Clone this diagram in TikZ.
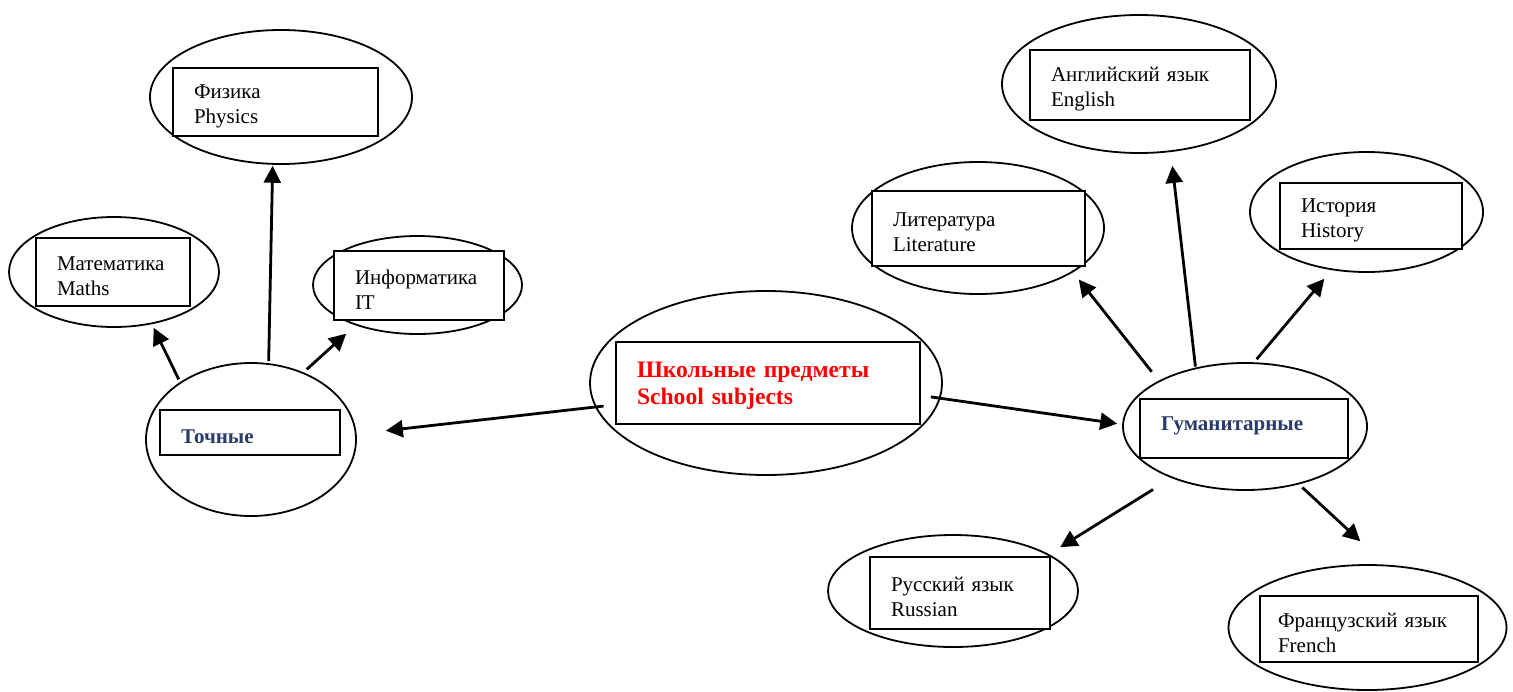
\documentclass[tikz,border=0pt]{standalone}
\usepackage{fontspec}
\setmainfont{Liberation Serif}
\usetikzlibrary{arrows.meta,shapes.geometric}
\definecolor{darkblue}{RGB}{40,60,105}
\hyphenpenalty=10000
\tikzset{
  oval/.style={draw, ellipse, line width=0.9pt, inner sep=0pt},
  frame/.style={draw, fill=white, line width=0.7pt, inner xsep=10.5pt, inner ysep=0pt,
    align=left, font=\fontsize{10.5}{12.5}\selectfont},
  box/.style={frame, execute at begin node={\rule{0pt}{11pt}}},
  head/.style={font=\fontsize{10.5}{12.5}\selectfont\bfseries, text=darkblue},
  arr/.style={line width=1.4pt, -{Triangle[length=8.5pt,width=8.5pt]}}
}

\begin{document}
\begin{tikzpicture}[x=0.5pt,y=-0.5pt]
  \useasboundingbox (0,0) rectangle (1513,691);

  % ovals
  \node (S)  at (766,383)    [oval, minimum width=176pt, minimum height=92pt] {};
  \node (T)  at (251,439.5)  [oval, minimum width=105pt, minimum height=76.5pt] {};
  \node (Ph) at (281,97)     [oval, minimum width=131pt, minimum height=67pt] {};
  \node (Ma) at (114,272)    [oval, minimum width=105pt, minimum height=55pt] {};
  \node (In) at (417.5,285)  [oval, minimum width=104.5pt, minimum height=49pt] {};
  \node (Hm) at (1245,426.5) [oval, minimum width=122pt, minimum height=63.5pt] {};
  \node (Li) at (978,228)    [oval, minimum width=126pt, minimum height=66pt] {};
  \node (En) at (1139,84)    [oval, minimum width=137pt, minimum height=69pt] {};
  \node (Hi) at (1366.5,212) [oval, minimum width=116.5pt, minimum height=60pt] {};
  \node (Ru) at (953,591)    [oval, minimum width=125pt, minimum height=56pt] {};
  \node (Fr) at (1367.5,627.5) [oval, minimum width=139pt, minimum height=62.5pt] {};

  % boxes
  \node (SB)  at (768,383)    [box, text width=131pt, minimum height=41pt,
    font=\fontsize{11.8}{13.5}\selectfont\bfseries, text=red] {Школьные предметы\\School subjects};
  \node (TB)  at (250,432.5)  [box, head, text width=69pt, minimum height=22.5pt] {Точные};
  \node (PhB) at (275.5,102)  [box, text width=81.5pt, minimum height=34pt] {Физика\\Physics};
  \node (MaB) at (113,272)    [box, text width=56pt, minimum height=34pt] {Математика\\Maths};
  \node (InB) at (419,285.5)  [box, text width=64pt, minimum height=34.5pt] {Информатика\\IT};
  \node (HmB) at (1244,428.5) [frame, head, text width=83pt, text depth=5pt,
    minimum height=29.5pt] {Гуманитарные};
  \node (LiB) at (978.5,228.5) [box, text width=85.5pt, minimum height=37.5pt] {Литература\\Literature};
  \node (EnB) at (1140,85)    [box, text width=89pt, minimum height=35pt] {Английский язык\\English};
  \node (HiB) at (1371,216)   [box, text width=70pt, minimum height=33pt] {История\\History};
  \node (RuB) at (960,593)    [box, text width=69pt, minimum height=36pt] {Русский язык\\Russian};
  \node (FrB) at (1369,629)   [box, inner xsep=9pt, text width=91pt, minimum height=33pt] {Французский язык\\French};

  % arrows
  \draw[arr, shorten <=-4.25pt, shorten >=14.7pt] (S.188) to (T.3);
  \draw[arr, shorten <=-4.85pt, shorten >=2.5pt] (S.-5) to (Hm.179);
  \draw[arr, shorten <=1.5pt, shorten >=2pt] (T.141) to (Ma.-54);
  \draw[arr, shorten <=1pt, shorten >=0.5pt] (T.77) to (Ph.263);
  \draw[arr, shorten <=2.2pt, shorten >=6.2pt] (T.52) to (In.-147);
  \draw[arr, shorten <=5.65pt, shorten >=4.6pt] (Hm.152) to (Li.-25);
  \draw[arr, shorten <=0.5pt, shorten >=7pt] (Hm.130) to (En.-65);
  \draw[arr, shorten <=2pt, shorten >=5.65pt] (Hm.82) to (Hi.-121);
  \draw[arr, shorten <=10.8pt, shorten >=6.6pt] (Hm.-145) to (Ru.21);
  \draw[arr, shorten <=2.3pt, shorten >=17.2pt] (Hm.-47.5) to (Fr.74);
\end{tikzpicture}
\end{document}
